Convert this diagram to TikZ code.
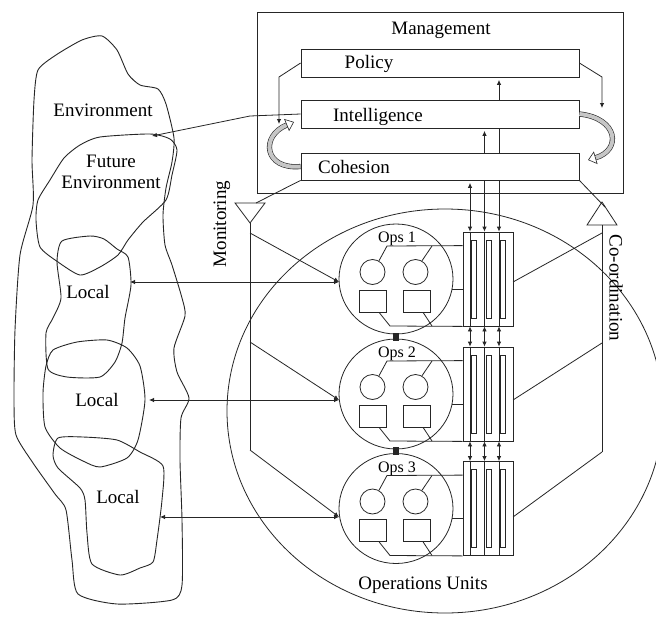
\documentclass[tikz,border=0pt]{standalone}
\usepackage{fontspec}
\setmainfont{Liberation Serif}
\usetikzlibrary{arrows.meta,shapes.geometric}
\pgfdeclarelayer{back}
\pgfdeclarelayer{bg}
\pgfsetlayers{back,bg,main}
\begin{document}
\begin{tikzpicture}[x=1pt,y=-1pt,
  ln/.style={draw=black!85, line width=0.8pt},
  box/.style={ln, fill=white, rectangle, inner sep=0pt},
  lbl/.style={font=\fontsize{19}{21}\selectfont, inner sep=0pt},
  opslbl/.style={font=\fontsize{16}{18}\selectfont, inner sep=0pt},
  tip/.style={-{Latex[length=5pt,width=4.5pt]}},
  dtip/.style={{Latex[length=5pt,width=4.5pt]}-{Latex[length=5pt,width=4.5pt]}},
  blob/.style={ln, line width=0.9pt},
  fatarrow/.style={draw=black!85, line width=0.6pt, double=gray!45, double distance=4pt,
    -{Triangle[open, length=8pt, width=13pt, fill=white]}}
]
\useasboundingbox (0,0) rectangle (656,616);
\clip (0,0) rectangle (656,616);
\begin{pgfonlayer}{back}
\fill[white] (0,0) rectangle (656,616);
\end{pgfonlayer}

% ---------- environment blobs ----------
\draw[blob] plot[smooth cycle, tension=0.4] coordinates {
 (102,36) (117,50) (128,74) (140,85) (158,89) (166,104) (174,138) (172,162) (166,188)
 (163,215) (165,245) (172,265) (182,298) (185,316) (174,348) (177,372) (189,398) (181,418)
 (180,460) (182,520) (182,585) (172,600) (117,604) (78,594) (72,560) (66,510) (55,494)
 (33,463) (16,435) (14,400) (15,330) (20,255) (33,205) (32,160) (34,100) (38,70) (56,55) (82,40)};
\draw[blob] plot[smooth cycle, tension=0.4] coordinates {
 (64,158) (80,145) (100,137) (150,134) (170,139) (177,150) (172,175) (166,200) (143,222)
 (128,240) (118,255) (100,267) (80,275) (58,262) (40,247) (36,220) (38,200) (50,180)};
\draw[blob] plot[smooth cycle, tension=0.4] coordinates {
 (62,241) (90,236) (104,239) (117,249) (128,257) (131,285) (125,318) (122,343) (115,362)
 (100,377) (67,377) (48,369) (46,333) (53,318) (61,298) (57,262)};
\draw[blob] plot[smooth cycle, tension=0.4] coordinates {
 (53,350) (77,342) (107,340) (127,348) (140,366) (145,400) (138,440) (127,458) (100,467)
 (83,461) (60,448) (45,427) (43,393) (46,366)};
\draw[blob] plot[smooth cycle, tension=0.4] coordinates {
 (58,438) (83,437) (117,440) (140,452) (163,466) (162,500) (157,540) (153,562) (140,568)
 (120,575) (92,564) (87,533) (85,500) (80,488) (58,468) (53,455)};

\node[lbl] (env) at (103,110) {Environment};
\node[lbl, align=center] (fenv) at (111,172) {Future\\Environment};
\node[lbl] (loc1) at (88,292) {Local};
\node[lbl] (loc2) at (97,400) {Local};
\node[lbl] (loc3) at (118,497) {Local};

% ---------- operations units circle ----------
\draw[ln] (445,411) ellipse [x radius=218pt, y radius=202pt];
\node[lbl] (opsunits) at (423,585) {Operations Units};

% ---------- management ----------
\node[ln, rectangle, inner sep=0pt, minimum width=366pt, minimum height=181pt] (mgmt) at (440,102.5) {};
\node[lbl] (mgmtT) at (441,30) {Management};

% bus coordinates
\coordinate (busA) at (470,0);
\coordinate (busB) at (484.5,0);
\coordinate (busC) at (499,0);

% ops units
\foreach \i/\d in {1/0, 2/115, 3/229.5} {
  \node[ln, rectangle, inner sep=0pt, minimum width=50pt, minimum height=94pt] (bank\i) at (488,279+\d) {};
  \foreach \x in {470,484.5,499} {
    \draw[ln, line width=0.7pt] (\x+1.5,240+\d) rectangle (\x+6.5,318+\d);
  }
  \node[ln, ellipse, inner sep=0pt, minimum width=114pt, minimum height=110pt] (ops\i) at (396,279+\d) {};
  \node[opslbl] (opsT\i) at (397,239+\d) {Ops \i};
  \node[ln, circle, inner sep=0pt, minimum size=25pt] (ca\i) at (372.5,272+\d) {};
  \node[ln, circle, inner sep=0pt, minimum size=25pt] (cb\i) at (415.5,272+\d) {};
  \node[ln, rectangle, inner sep=0pt, minimum width=27pt, minimum height=22pt] (ra\i) at (372.5,301+\d) {};
  \node[ln, rectangle, inner sep=0pt, minimum width=27pt, minimum height=22pt] (rb\i) at (416.5,301+\d) {};
  \draw[ln] (ca\i.60) -- (387,246+\d) -- ([yshift=-14pt]bank\i.north west);
  \draw[ln] (cb\i.60) -- (432,246+\d);
  \draw[ln] (ra\i.-60) -- (390,326+\d) -- (bank\i.south west);
  \draw[ln] (rb\i.-60) -- (432,326+\d);
  \draw[ln] (ops\i.-10) -- (ops\i.-10 -| bank\i.west);
}
\node[fill=black!85, inner sep=0pt, minimum width=6pt, minimum height=8pt] (link1) at (396,336.5) {};
\node[fill=black!85, inner sep=0pt, minimum width=6pt, minimum height=8pt] (link2) at (396,451) {};

% bus lines through and between banks
\foreach \b in {busA,busB,busC} {
  \draw[ln] (bank1.north -| \b) -- (bank1.south -| \b);
  \draw[ln] (bank2.north -| \b) -- (bank2.south -| \b);
  \draw[ln] (bank3.north -| \b) -- (bank3.south -| \b);
  \draw[ln, dtip] (bank1.south -| \b) -- (bank2.north -| \b);
  \draw[ln, dtip] (bank2.south -| \b) -- (bank3.north -| \b);
}

% management boxes
\node[box, minimum width=278pt, minimum height=28pt] (policy) at (440,63) {};
\node[box, minimum width=278pt, minimum height=28pt] (intel) at (440,114) {};
\node[box, minimum width=278pt, minimum height=27pt] (cohesion) at (440,166.5) {};
\node[lbl] (policyT) at (369,64) {Policy};
\node[lbl] (intelT) at (378,117) {Intelligence};
\node[lbl] (cohesionT) at (354,167) {Cohesion};

% bus lines from management boxes to first bank (behind the boxes)
\begin{pgfonlayer}{bg}
\draw[ln, dtip, shorten <=2.5pt] (policy.south -| busC) -- (bank1.north -| busC);
\draw[ln, dtip, shorten <=2.5pt] (intel.south -| busB) -- (bank1.north -| busB);
\draw[ln, dtip, shorten <=2.5pt] (cohesion.south -| busA) -- (bank1.north -| busA);
\end{pgfonlayer}

% policy side arrows
\draw[ln, tip] (policy.west) -- (279,77) -- (279,124);
\draw[ln, tip] (policy.east) -- (602,77) -- (602,108);

% fat grey loop arrows
\draw[fatarrow] (cohesion.west) .. controls (264,170) and (260,136) .. (294,122);
\draw[fatarrow] (intel.east) .. controls (618,118) and (622,150) .. (588,160);

% environment link
\draw[ln, tip] (intel.west) -- (250,116) -- (152,136);

% monitoring
\coordinate (monA) at (250,223);
\draw[ln] (235,203) -- (265,203) -- (monA) -- cycle;
\coordinate (m1) at (250,233);
\coordinate (m2) at (250,342);
\coordinate (m3) at (250,450);
\draw[ln] (monA) -- (m3);
\node[lbl, rotate=90] (monT) at (222,224) {Monitoring};
\draw[ln] (cohesion.south west) -- (256,203);

% co-ordination
\coordinate (coA) at (602,202);
\draw[ln] (587,225) -- (617,225) -- (coA) -- cycle;
\coordinate (k1) at (602,233);
\coordinate (k2) at (602,343);
\coordinate (k3) at (602,452);
\draw[ln] (602,225) -- (k3);
\node[lbl, rotate=-90] (coT) at (616,288) {Co-ordination};
\draw[ln] (cohesion.south east) -- (605,207);

% arrow points
\coordinate (pin1) at (339,282);
\coordinate (pin2) at (339,400);
\coordinate (pin3) at (339,517);
\coordinate (bp1) at (513,282);
\coordinate (bp2) at (513,400);
\coordinate (bp3) at (513,517);
\coordinate (lp1) at (130,282);
\coordinate (lp2) at (149,400);
\coordinate (lp3) at (160,517);

\foreach \i in {1,2,3} {
  \draw[ln, tip] (m\i) -- (pin\i);
  \draw[ln] (k\i) -- (bp\i);
  \draw[ln, dtip] (lp\i) -- (pin\i);
}
\end{tikzpicture}
\end{document}
